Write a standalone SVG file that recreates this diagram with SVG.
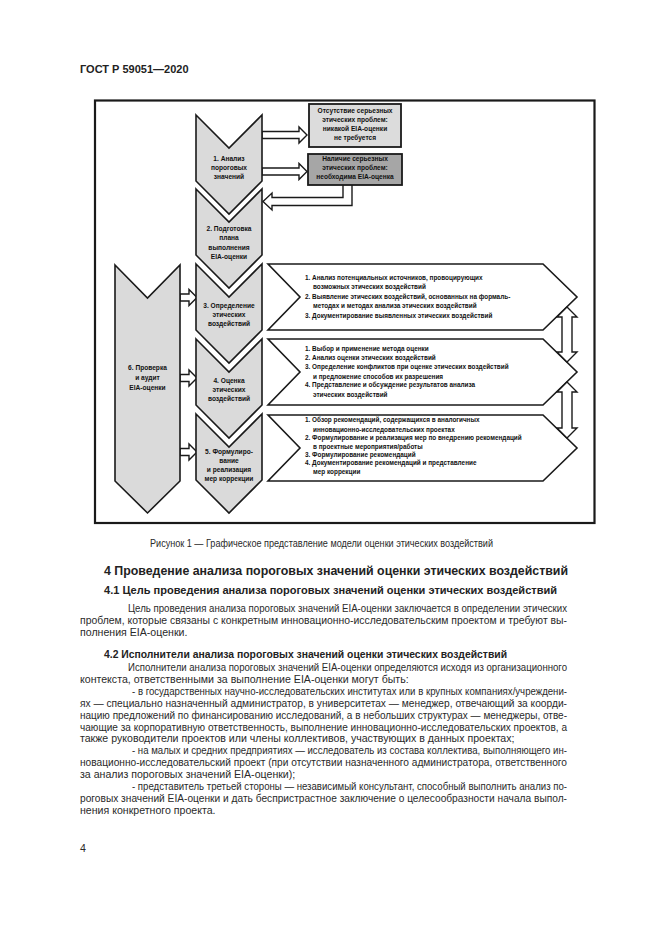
<svg xmlns="http://www.w3.org/2000/svg" width="661" height="935" viewBox="0 0 661 935">
<style>
.bg{fill:#fff}
.frame{fill:#fff;stroke:#1a1a1a;stroke-width:2.2}
.chev{fill:#dadada;stroke:#1a1a1a;stroke-width:1.6;stroke-linejoin:miter}
.boxA{fill:#dcdcdc;stroke:#1a1a1a;stroke-width:1.8}
.boxB{fill:#a6a6a6;stroke:#1a1a1a;stroke-width:1.8}
.pent{fill:#fff;stroke:#1a1a1a;stroke-width:1.6}
.harr{fill:#fff;stroke:#1a1a1a;stroke-width:1.4;stroke-linejoin:miter}
.dt{font-family:"Liberation Sans",Arial,sans-serif;font-size:6.6px;font-weight:bold;fill:#111;text-anchor:middle}
.lt{font-family:"Liberation Sans",Arial,sans-serif;font-size:6.4px;font-weight:bold;fill:#111}
.body{font-family:"Liberation Sans",Arial,sans-serif;font-size:10.6px;fill:#2a2a2a}
.h{font-family:"Liberation Sans",Arial,sans-serif;font-weight:bold;fill:#222}
</style>
<rect class="bg" x="0" y="0" width="661" height="935"/>
<text class="h" x="80" y="73" font-size="11">ГОСТ Р 59051—2020</text>

<rect class="frame" x="95" y="100.5" width="499.5" height="422.5"/>

<!-- connectors -->
<g id="connectors">
  <path class="harr" d="M262,131.5 L299,131.5 L299,127 L307,135 L299,143 L299,138.5 L262,138.5 Z"/>
  <path class="harr" d="M262,168 L299,168 L299,163.5 L307,171.5 L299,179.5 L299,175 L262,175 Z"/>
  <path class="harr" d="M343,185 L343,197.5 L272,197.5 L272,193 L263,201.5 L272,210 L272,205.5 L352,205.5 L352,185"/>
  <path class="harr" d="M180,294 L189,294 L189,289.5 L197,297.5 L189,305.5 L189,301 L180,301 Z"/>
  <path class="harr" d="M180,374.5 L189,374.5 L189,370 L197,378 L189,386 L189,381.5 L180,381.5 Z"/>
  <path class="harr" d="M180,448.5 L189,448.5 L189,444 L197,452 L189,460 L189,455.5 L180,455.5 Z"/>
</g>

<g id="box-no">
  <rect class="boxA" x="309" y="104" width="92" height="43"/>
  <text class="dt" x="355" y="113">Отсутствие серьезных</text>
  <text class="dt" x="355" y="122">этических проблем:</text>
  <text class="dt" x="355" y="131">никакой EIA-оценки</text>
  <text class="dt" x="355" y="140">не требуется</text>
</g>
<g id="box-yes">
  <rect class="boxB" x="308" y="154" width="94" height="31"/>
  <text class="dt" x="355" y="161">Наличие серьезных</text>
  <text class="dt" x="355" y="170">этических проблем:</text>
  <text class="dt" x="355" y="179">необходима EIA-оценка</text>
</g>

<g id="step1">
  <path class="chev" d="M196,115 L229,148 L262,115 L262,181 L229,214 L196,181 Z"/>
  <text class="dt" x="229" y="161">1. Анализ</text>
  <text class="dt" x="229" y="170">пороговых</text>
  <text class="dt" x="229" y="179">значений</text>
</g>
<g id="step2">
  <path class="chev" d="M196,189 L229,222 L262,189 L262,255 L229,288 L196,255 Z"/>
  <text class="dt" x="229" y="231">2. Подготовка</text>
  <text class="dt" x="229" y="240">плана</text>
  <text class="dt" x="229" y="250">выполнения</text>
  <text class="dt" x="229" y="259">EIA-оценки</text>
</g>
<g id="step3">
  <path class="chev" d="M196,264 L229,297 L262,264 L262,330 L229,363 L196,330 Z"/>
  <text class="dt" x="229" y="308">3. Определение</text>
  <text class="dt" x="229" y="317">этических</text>
  <text class="dt" x="229" y="326">воздействий</text>
</g>
<g id="step4">
  <path class="chev" d="M196,339 L229,372 L262,339 L262,405 L229,438 L196,405 Z"/>
  <text class="dt" x="229" y="383">4. Оценка</text>
  <text class="dt" x="229" y="392">этических</text>
  <text class="dt" x="229" y="401">воздействий</text>
</g>
<g id="step5">
  <path class="chev" d="M196,414 L229,447 L262,414 L262,480 L229,513 L196,480 Z"/>
  <text class="dt" x="229" y="454">5. Формулиро-</text>
  <text class="dt" x="229" y="463">вание</text>
  <text class="dt" x="229" y="472">и реализация</text>
  <text class="dt" x="229" y="481">мер коррекции</text>
</g>
<g id="step6">
  <path class="chev" d="M115,265 L147.5,298 L180,265 L180,481 L147.5,513 L115,481 Z"/>
  <text class="dt" x="147.5" y="370">6. Проверка</text>
  <text class="dt" x="147.5" y="380">и аудит</text>
  <text class="dt" x="147.5" y="390">EIA-оценки</text>
</g>

<g id="tasks3">
  <path class="pent" d="M268,264 L543,264 L577,297 L543,330 L268,330 L300,297 Z"/>
  <text class="lt" x="305" y="280">1. Анализ потенциальных источников, провоцирующих</text>
  <text class="lt" x="313" y="289">возможных этических воздействий</text>
  <text class="lt" x="305" y="299">2. Выявление этических воздействий, основанных на формаль-</text>
  <text class="lt" x="313" y="308">методах и методах анализа этических воздействий</text>
  <text class="lt" x="305" y="318">3. Документирование выявленных этических воздействий</text>
</g>
<g id="tasks4">
  <path class="pent" d="M268,339 L543,339 L577,372 L543,405 L268,405 L300,372 Z"/>
  <text class="lt" x="305" y="351">1. Выбор и применение метода оценки</text>
  <text class="lt" x="305" y="360">2. Анализ оценки этических воздействий</text>
  <text class="lt" x="305" y="369">3. Определение конфликтов при оценке этических воздействий</text>
  <text class="lt" x="313" y="379">и предложение способов их разрешения</text>
  <text class="lt" x="305" y="387">4. Представление и обсуждение результатов анализа</text>
  <text class="lt" x="313" y="397">этических воздействий</text>
</g>
<g id="tasks5">
  <path class="pent" d="M268,415 L543,415 L577,448 L543,481 L268,481 L300,448 Z"/>
  <text class="lt" x="305" y="422">1. Обзор рекомендаций, содержащихся в аналогичных</text>
  <text class="lt" x="313" y="432">инновационно-исследовательских проектах</text>
  <text class="lt" x="305" y="440">2. Формулирование и реализация мер по внедрению рекомендаций</text>
  <text class="lt" x="313" y="449">в проектные мероприятия/работы</text>
  <text class="lt" x="305" y="457">3. Формулирование рекомендаций</text>
  <text class="lt" x="305" y="465">4. Документирование рекомендаций и представление</text>
  <text class="lt" x="313" y="474">мер коррекции</text>
</g>

<g id="feedback">
  <path class="harr" d="M567,307 L577,317 L572,317 L572,352 L577,352 L567,362 L557,352 L562,352 L562,317 L557,317 Z"/>
  <path class="harr" d="M567,382 L577,392 L572,392 L572,428 L577,428 L567,438 L557,428 L562,428 L562,392 L557,392 Z"/>
</g>

<text class="body" x="150" y="547" font-size="9" textLength="343" lengthAdjust="spacingAndGlyphs">Рисунок 1 — Графическое представление модели оценки этических воздействий</text>

<text class="h" x="104" y="575" font-size="12.5" textLength="464" lengthAdjust="spacingAndGlyphs">4 Проведение анализа пороговых значений оценки этических воздействий</text>
<text class="h" x="104" y="594" font-size="10.5" textLength="453" lengthAdjust="spacingAndGlyphs">4.1 Цель проведения анализа пороговых значений оценки этических воздействий</text>
<text class="body" x="128" y="612" textLength="439" lengthAdjust="spacingAndGlyphs">Цель проведения анализа пороговых значений EIA-оценки заключается в определении этических</text>
<text class="body" x="80" y="624" textLength="487" lengthAdjust="spacingAndGlyphs">проблем, которые связаны с конкретным инновационно-исследовательским проектом и требуют вы-</text>
<text class="body" x="80" y="636">полнения EIA-оценки.</text>
<text class="h" x="104" y="658" font-size="10.5" textLength="403" lengthAdjust="spacingAndGlyphs">4.2 Исполнители анализа пороговых значений оценки этических воздействий</text>
<text class="body" x="128" y="671" textLength="439" lengthAdjust="spacingAndGlyphs">Исполнители анализа пороговых значений EIA-оценки определяются исходя из организационного</text>
<text class="body" x="80" y="683">контекста, ответственными за выполнение EIA-оценки могут быть:</text>
<text class="body" x="132" y="695" textLength="435" lengthAdjust="spacingAndGlyphs">- в государственных научно-исследовательских институтах или в крупных компаниях/учреждени-</text>
<text class="body" x="80" y="707" textLength="487" lengthAdjust="spacingAndGlyphs">ях — специально назначенный администратор, в университетах — менеджер, отвечающий за коорди-</text>
<text class="body" x="80" y="719" textLength="487" lengthAdjust="spacingAndGlyphs">нацию предложений по финансированию исследований, а в небольших структурах — менеджеры, отве-</text>
<text class="body" x="80" y="731" textLength="487" lengthAdjust="spacingAndGlyphs">чающие за корпоративную ответственность, выполнение инновационно-исследовательских проектов, а</text>
<text class="body" x="80" y="742">также руководители проектов или члены коллективов, участвующих в данных проектах;</text>
<text class="body" x="132" y="754" textLength="435" lengthAdjust="spacingAndGlyphs">- на малых и средних предприятиях — исследователь из состава коллектива, выполняющего ин-</text>
<text class="body" x="80" y="766" textLength="487" lengthAdjust="spacingAndGlyphs">новационно-исследовательский проект (при отсутствии назначенного администратора, ответственного</text>
<text class="body" x="80" y="778">за анализ пороговых значений EIA-оценки);</text>
<text class="body" x="132" y="790" textLength="435" lengthAdjust="spacingAndGlyphs">- представитель третьей стороны — независимый консультант, способный выполнить анализ по-</text>
<text class="body" x="80" y="802" textLength="487" lengthAdjust="spacingAndGlyphs">роговых значений EIA-оценки и дать беспристрастное заключение о целесообразности начала выпол-</text>
<text class="body" x="80" y="814">нения конкретного проекта.</text>
<text class="body" x="80" y="852">4</text>
</svg>
